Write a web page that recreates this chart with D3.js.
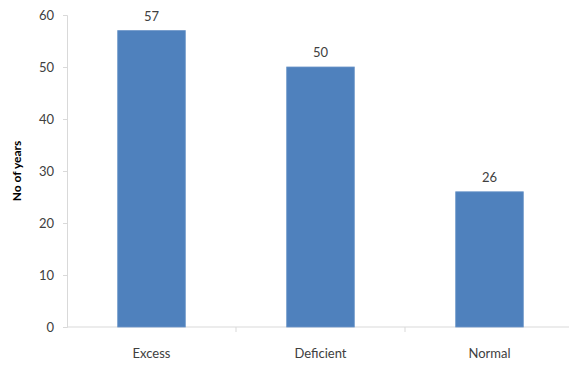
<!DOCTYPE html>
<html>
<head>
<meta charset="utf-8">
<script src="https://cdn.jsdelivr.net/npm/d3@7"></script>
<style>
  body { margin: 0; background: #fff; }
  text { font-family: Lato, "Open Sans", sans-serif; fill: #333; }
</style>
</head>
<body>
<div id="chart"></div>
<script>
// data
const categories = ["Excess", "Deficient", "Normal"];
const years = [57, 50, 26];
const yTicks = [0, 10, 20, 30, 40, 50, 60];

var margin = { top: 15, right: -5, bottom: 39, left: 67 },
    width = 569 - margin.left - margin.right,
    height = 366 - margin.top - margin.bottom;

var svg = d3.select("#chart")
    .append("svg")
    .attr("width", 569)
    .attr("height", 366)
    .append("g")
    .attr("transform", "translate(" + margin.left + "," + margin.top + ")");

var x = d3.scaleBand()
    .domain(categories)
    .range([0, width])
    .padding(0);

var y = d3.scaleLinear()
    .domain([0, 60])
    .range([height, 0]);

// y axis
var yAxis = svg.append("g")
    .call(d3.axisLeft(y).tickValues(yTicks).tickSize(4).tickPadding(9));
yAxis.selectAll("line").attr("stroke", "#d9d9d9");
yAxis.select(".domain").attr("stroke", "#d9d9d9");
yAxis.selectAll("text").style("font-size", "13px").style("fill", "#404040");

// x axis with ticks between categories
var xAxis = svg.append("g")
    .attr("transform", "translate(0," + height + ")");
xAxis.append("line")
    .attr("x1", 0).attr("x2", width)
    .attr("stroke", "#d9d9d9");
xAxis.selectAll(".sep")
    .data(categories)
    .enter()
    .append("line")
    .attr("x1", d => x(d) + x.bandwidth())
    .attr("x2", d => x(d) + x.bandwidth())
    .attr("y1", 0).attr("y2", 5)
    .attr("stroke", "#d9d9d9");
xAxis.selectAll(".cat")
    .data(categories)
    .enter()
    .append("text")
    .attr("x", d => x(d) + x.bandwidth() / 2)
    .attr("y", 31)
    .attr("text-anchor", "middle")
    .style("font-size", "13px")
    .style("fill", "#404040")
    .text(d => d);

// bars
var barW = x.bandwidth() * 0.4;
svg.selectAll(".bar")
    .data(years)
    .enter()
    .append("rect")
    .attr("x", (d, i) => x(categories[i]) + (x.bandwidth() - barW) / 2)
    .attr("y", d => y(d))
    .attr("width", barW)
    .attr("height", d => height - y(d))
    .attr("fill", "#4f81bd")
    .attr("stroke", "#6b95c8")
    .attr("stroke-width", 0.8);

// value labels
svg.selectAll(".lbl")
    .data(years)
    .enter()
    .append("text")
    .attr("x", (d, i) => x(categories[i]) + x.bandwidth() / 2)
    .attr("y", d => y(d) - 10)
    .attr("text-anchor", "middle")
    .style("font-size", "13px")
    .style("fill", "#404040")
    .text(d => d);

// y title
svg.append("text")
    .attr("transform", "rotate(-90)")
    .attr("x", -height / 2)
    .attr("y", -margin.left + 21)
    .attr("text-anchor", "middle")
    .style("font-size", "12px")
    .style("font-weight", "bold")
    .style("fill", "#000")
    .text("No of years");
</script>
</body>
</html>
